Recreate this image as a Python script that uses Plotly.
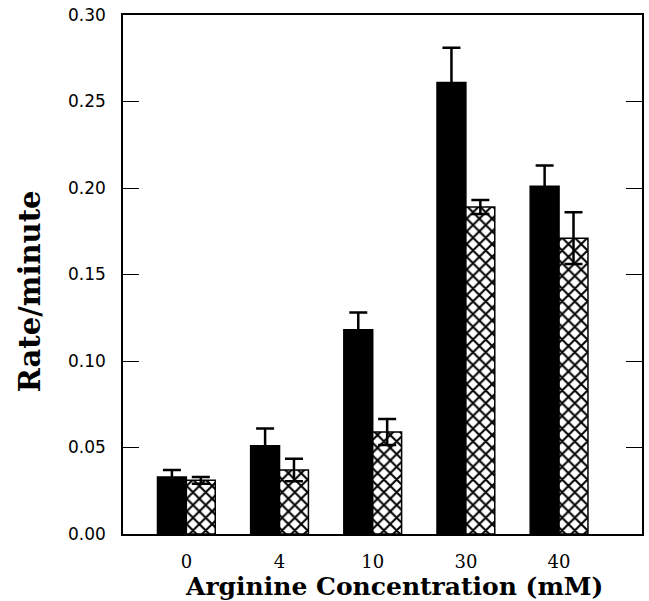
import plotly.graph_objects as go

categories = ["0", "4", "10", "30", "40"]
solid_values = [0.033, 0.051, 0.118, 0.261, 0.201]
solid_errors = [0.004, 0.010, 0.010, 0.020, 0.012]
hatched_values = [0.031, 0.037, 0.059, 0.189, 0.171]
hatched_errors = [0.002, 0.0065, 0.0075, 0.004, 0.015]
y_ticks = [0.00, 0.05, 0.10, 0.15, 0.20, 0.25, 0.30]

fig = go.Figure()
fig.add_trace(go.Bar(
    x=categories, y=solid_values,
    marker=dict(color="black", line=dict(color="black", width=1.5)),
    error_y=dict(type="data", array=solid_errors, color="black", thickness=2.5, width=9),
    showlegend=False,
))
fig.add_trace(go.Bar(
    x=categories, y=hatched_values,
    marker=dict(color="white", line=dict(color="black", width=1.5),
                pattern=dict(shape="x", fgcolor="#000000", bgcolor="#ffffff",
                             fgopacity=1, fillmode="replace", size=9, solidity=0.4)),
    error_y=dict(type="data", array=hatched_errors, color="black", thickness=2.5, width=9),
    showlegend=False,
))

fig.update_layout(
    width=649, height=601,
    margin=dict(l=123, r=5, t=14, b=67),
    paper_bgcolor="white", plot_bgcolor="white",
    barmode="group", bargap=0.38, bargroupgap=0,
    xaxis=dict(
        type="category", range=[-0.68, 4.89],
        showline=True, linecolor="black", linewidth=2, mirror=True,
        ticks="", showgrid=False, zeroline=False,
        tickfont=dict(family="DejaVu Serif", size=18, color="black"),
        ticklabelstandoff=10,
    ),
    yaxis=dict(
        range=[0, 0.30], tickvals=y_ticks, tickformat=".2f",
        showline=True, linecolor="black", linewidth=1.5, mirror="ticks",
        ticks="inside", ticklen=16, tickwidth=1.2, tickcolor="black",
        showgrid=False, zeroline=False,
        tickfont=dict(family="DejaVu Sans", size=17, color="black"),
        ticklabelstandoff=12,
    ),
    annotations=[
        dict(text="<b>Arginine Concentration (mM)</b>", xref="paper", yref="paper",
             x=0.522, y=-0.102, xanchor="center", yanchor="middle", showarrow=False,
             font=dict(family="DejaVu Serif", size=25, color="black")),
        dict(text="<b>Rate/minute</b>", xref="paper", yref="paper",
             x=-0.180, y=0.467, xanchor="center", yanchor="middle", showarrow=False,
             textangle=-90,
             font=dict(family="DejaVu Serif", size=29, color="black")),
    ],
)

fig.write_html("out.html")
